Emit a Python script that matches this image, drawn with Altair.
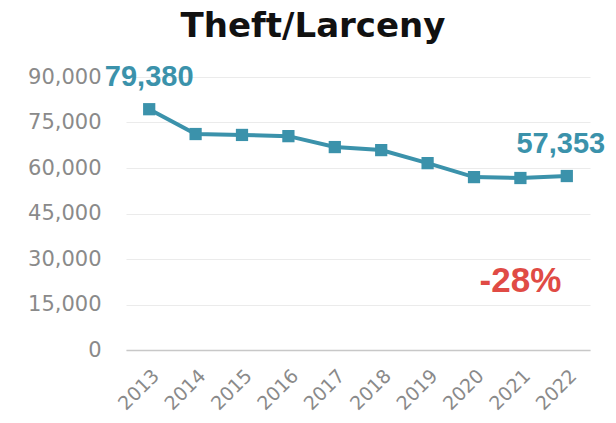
import altair as alt
import pandas as pd

years = ["2013", "2014", "2015", "2016", "2017", "2018", "2019", "2020", "2021", "2022"]
values = [79380, 71200, 70900, 70500, 66900, 65900, 61600, 57000, 56700, 57353]
y_ticks = [0, 15000, 30000, 45000, 60000, 75000, 90000]

first_year = ["2013"]
first_value = [79380]
first_text = ["79,380"]
last_year = ["2022"]
last_value = [57353]
last_text = ["57,353"]

change_year = ["2021"]
change_value = [22750]
change_text = ["-28%"]

teal = "#3b92ab"
df = pd.DataFrame({"year": years, "value": values})
lab1 = pd.DataFrame({"year": first_year, "value": first_value, "text": first_text})
lab2 = pd.DataFrame({"year": last_year, "value": last_value, "text": last_text})
chg = pd.DataFrame({"year": change_year, "value": change_value, "text": change_text})

x = alt.X("year:O", title=None,
          scale=alt.Scale(domain=years, padding=0.5),
          axis=alt.Axis(labelAngle=-45, labelFont="DejaVu Sans", labelFontSize=19,
                        labelColor="#8a8a8a", ticks=False, domainColor="#c8c8c8",
                        domainWidth=1.5, labelPadding=16, grid=False))
y = alt.Y("value:Q", title=None,
          scale=alt.Scale(domain=[0, 90000], nice=False),
          axis=alt.Axis(values=y_ticks, format=",.0f", labelFont="DejaVu Sans", labelFontSize=21,
                        labelColor="#8a8a8a", ticks=False, domain=False, labelPadding=25,
                        gridColor="#ebebeb", gridWidth=1))

line = alt.Chart(df).mark_line(color=teal, strokeWidth=4).encode(x=x, y=y)
pts = alt.Chart(df).mark_point(shape="square", filled=True, opacity=1, color=teal, size=150).encode(x=x, y=y)
label1 = alt.Chart(lab1).mark_text(font="Liberation Sans", fontWeight="bold", fontSize=29,
                                   color=teal, dy=-32, baseline="middle").encode(x=x, y=y, text="text:N")
label2 = alt.Chart(lab2).mark_text(font="Liberation Sans", fontWeight="bold", fontSize=29,
                                   color=teal, dy=-32, dx=-6, baseline="middle").encode(x=x, y=y, text="text:N")
change = alt.Chart(chg).mark_text(font="Liberation Sans", fontWeight="bold", fontSize=35,
                                  color="#e04b45", baseline="middle").encode(x=x, y=y, text="text:N")

chart = alt.layer(line, pts, label1, label2, change).properties(
    width=464, height=273,
    title=alt.TitleParams("Theft/Larceny", font="DejaVu Sans", fontSize=34, fontWeight="bold",
                          color="#111111", anchor="middle", offset=19, dx=-45),
    padding={"left": 19, "top": 2, "right": 0, "bottom": 5},
).configure_view(stroke=None)

chart.save("out.html", embed_options={"renderer": "svg", "actions": False})
